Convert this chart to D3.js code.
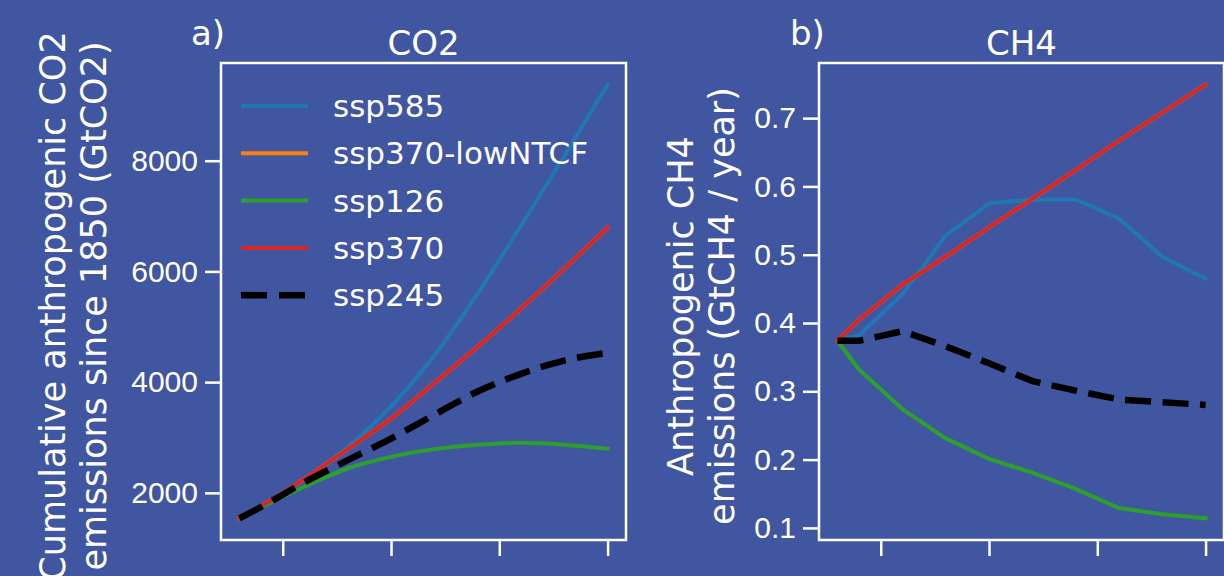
<!DOCTYPE html>
<html>
<head>
<meta charset="utf-8">
<script src="https://cdn.jsdelivr.net/npm/d3@7/dist/d3.min.js"></script>
<style>
  body { margin: 0; background: #4156a1; }
  svg { display: block; font-family: "DejaVu Sans", sans-serif; }
</style>
</head>
<body>
<svg id="chart" width="1224" height="576"></svg>
<script>
// scenario years
var years = [2015, 2020, 2030, 2040, 2050, 2060, 2070, 2080, 2090, 2100];

// legend / plot order
var scenarios = ["ssp585", "ssp370-lowNTCF", "ssp126", "ssp370", "ssp245"];
var colors = ["#1f77b4", "#ff7f0e", "#2ca02c", "#d62728", "#000000"];

// cumulative anthropogenic CO2 since 1850 (GtCO2)
var co2_ssp585 = [1540, 1745, 2245, 2830, 3560, 4480, 5600, 6820, 8080, 9373];
var co2_ssp370lowNTCF = [1540, 1760, 2250, 2790, 3340, 3985, 4640, 5330, 6050, 6790];
var co2_ssp126 = [1540, 1740, 2110, 2440, 2650, 2790, 2870, 2905, 2870, 2795];
var co2_ssp370 = [1540, 1760, 2250, 2790, 3340, 3985, 4640, 5330, 6050, 6790];
var co2_ssp245 = [1540, 1745, 2190, 2590, 2980, 3410, 3830, 4150, 4390, 4530];

// anthropogenic CH4 emissions (GtCH4 / year)
var ch4_ssp585 = [0.374, 0.382, 0.442, 0.528, 0.575, 0.581, 0.581, 0.553, 0.497, 0.465];
var ch4_ssp370lowNTCF = [0.374, 0.405, 0.456, 0.497, 0.540, 0.582, 0.624, 0.667, 0.708, 0.749];
var ch4_ssp126 = [0.374, 0.332, 0.274, 0.231, 0.201, 0.181, 0.157, 0.129, 0.120, 0.114];
var ch4_ssp370 = [0.374, 0.405, 0.456, 0.497, 0.540, 0.582, 0.624, 0.667, 0.708, 0.749];
var ch4_ssp245 = [0.374, 0.374, 0.388, 0.366, 0.341, 0.315, 0.301, 0.288, 0.284, 0.280];

var co2Ticks = [2000, 4000, 6000, 8000];
var ch4Ticks = [0.1, 0.2, 0.3, 0.4, 0.5, 0.6, 0.7];
var yearTicks = [2025, 2050, 2075, 2100];

var svg = d3.select("#chart");
var top_y = 63, bottom_y = 540;

// matplotlib style 5% margins
function padded(values) {
  var ext = d3.extent(values);
  var pad = (ext[1] - ext[0]) * 0.05;
  return [ext[0] - pad, ext[1] + pad];
}

function drawPanel(p) {
  var g = svg.append("g");
  var x = d3.scaleLinear().domain(padded(years)).range([p.left, p.right]);
  var y = d3.scaleLinear().domain(padded(d3.merge(p.series))).range([bottom_y, top_y]);

  // axes
  g.append("g")
    .attr("transform", `translate(${p.left},0)`)
    .call(d3.axisLeft(y).tickValues(p.yTicks).tickSize(16).tickPadding(7).tickFormat(p.fmt))
    .call(a => a.select(".domain").remove())
    .call(a => a.selectAll("line").attr("stroke", "#fff").attr("stroke-width", 2.5))
    .call(a => a.selectAll("text").attr("fill", "#fff").style("font-size", "30px"));

  g.append("g")
    .attr("transform", `translate(0,${bottom_y})`)
    .call(d3.axisBottom(x).tickValues(yearTicks).tickSize(16).tickFormat(""))
    .call(a => a.select(".domain").remove())
    .call(a => a.selectAll("line").attr("stroke", "#fff").attr("stroke-width", 2.5));

  // lines
  var line = d3.line()
    .x((d, i) => x(years[i]))
    .y(d => y(d))
    .curve(p.curve);

  p.series.forEach(function(s, i) {
    var dashed = scenarios[i] == "ssp245";
    g.append("path")
      .attr("d", line(s))
      .attr("fill", "none")
      .attr("stroke", colors[i])
      .attr("stroke-width", dashed ? 6.5 : 4)
      .attr("stroke-linejoin", "round")
      .attr("stroke-linecap", dashed ? "butt" : "square")
      .attr("stroke-dasharray", dashed ? "26,11.5" : null);
  });

  // frame
  g.append("rect")
    .attr("x", p.left).attr("y", top_y)
    .attr("width", p.right - p.left).attr("height", bottom_y - top_y)
    .attr("fill", "none").attr("stroke", "#fff").attr("stroke-width", 2.5);

  // title and panel letter
  g.append("text")
    .attr("x", (p.left + p.right) / 2).attr("y", 55)
    .attr("text-anchor", "middle").attr("fill", "#fff")
    .style("font-size", "34px").text(p.title);
  g.append("text")
    .attr("x", p.letterX).attr("y", 45)
    .attr("fill", "#fff").style("font-size", "34px").text(p.letter);

  // y label, two lines
  p.ylabel.forEach(function(t, i) {
    g.append("text")
      .attr("transform", `translate(${p.labelX + i * 41},306) rotate(-90)`)
      .attr("text-anchor", "middle").attr("fill", "#fff")
      .style("font-size", "35px").text(t);
  });
  return g;
}

var gA = drawPanel({
  left: 221, right: 626,
  series: [co2_ssp585, co2_ssp370lowNTCF, co2_ssp126, co2_ssp370, co2_ssp245],
  yTicks: co2Ticks, fmt: d3.format("d"),
  curve: d3.curveMonotoneX,
  title: "CO2", letter: "a)", letterX: 191,
  ylabel: ["Cumulative anthropogenic CO2", "emissions since 1850 (GtCO2)"],
  labelX: 65
});

drawPanel({
  left: 819, right: 1224,
  series: [ch4_ssp585, ch4_ssp370lowNTCF, ch4_ssp126, ch4_ssp370, ch4_ssp245],
  yTicks: ch4Ticks, fmt: d3.format(".1f"),
  curve: d3.curveLinear,
  title: "CH4", letter: "b)", letterX: 790,
  ylabel: ["Anthropogenic CH4", "emissions (GtCH4 / year)"],
  labelX: 693
});

// legend in panel a
var legend = gA.append("g");
scenarios.forEach(function(name, i) {
  var ly = 106 + i * 47.3;
  var dashed = name == "ssp245";
  legend.append("line")
    .attr("x1", 241).attr("x2", 308).attr("y1", ly).attr("y2", ly)
    .attr("stroke", colors[i])
    .attr("stroke-width", dashed ? 6.5 : 4)
    .attr("stroke-dasharray", dashed ? "26,12" : null);
  legend.append("text")
    .attr("x", 333).attr("y", ly + 11)
    .attr("fill", "#fff").style("font-size", "31px").text(name);
});
</script>
</body>
</html>
